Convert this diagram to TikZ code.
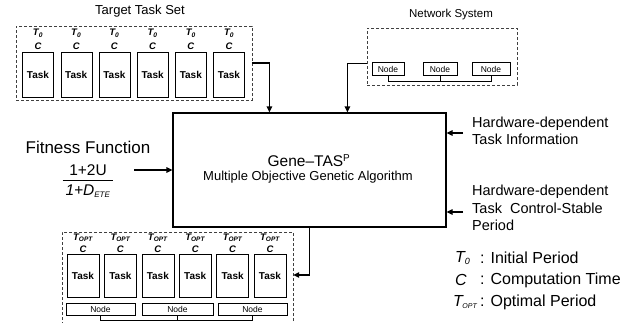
\documentclass[tikz,border=0pt]{standalone}
\usepackage{fontspec}
\setmainfont{Liberation Sans}
\usetikzlibrary{arrows.meta}

\begin{document}
\begin{tikzpicture}[x=1pt, y=-1pt,
  setbox/.style={draw=black!75, dash pattern=on 3pt off 2pt, inner sep=0pt},
  taskbox/.style={draw, thin, minimum width=31pt, minimum height=45pt, inner sep=0pt,
    font=\fontsize{10}{12}\selectfont\bfseries},
  tlabel/.style={font=\fontsize{9.5}{11}\selectfont\bfseries\itshape, inner sep=0pt},
  netnode/.style={draw, thin, minimum height=13pt, inner sep=0pt,
    font=\fontsize{8.5}{10}\selectfont},
  arr/.style={very thick, -{Triangle[length=6pt, width=5.5pt]}},
  sidetext/.style={font=\fontsize{14.5}{17.5}\selectfont, align=left, anchor=west, inner sep=0pt},
  legend/.style={font=\fontsize{16}{18}\selectfont, anchor=west, inner sep=0pt},
]

  \useasboundingbox (0,0) rectangle (627,322);

  % Central optimisation block
  \node[draw, very thick, minimum width=273pt, minimum height=114pt] (main) at (309.5,170) {};
  \node[font=\fontsize{15.5}{17}\selectfont] (gene) at (309,161) {Gene--TAS\textsuperscript{\fontsize{10}{10}\selectfont P}};
  \node[font=\fontsize{13}{14}\selectfont] (moga) at (308,177) {Multiple Objective Genetic Algorithm};

  % Target task set (top left)
  \node[font=\fontsize{13}{14}\selectfont] (ttitle) at (140,11) {Target Task Set};
  \node[setbox, minimum width=236pt, minimum height=74pt] (target) at (134,63) {};
  \foreach \i in {1,...,6} {
    \pgfmathsetmacro{\tx}{38+(\i-1)*38.2}
    \node[taskbox] (task\i) at (\tx,74.5) {Task};
    \node[tlabel] (tc\i) at (\tx,46) {C};
    \node[tlabel] (tp\i) at (\tx,33) {T\textsubscript{0}};
  }
  \draw[arr] (target.east) -| ([xshift=97pt]main.north west);

  % Network system (top right)
  \node[font=\fontsize{11.5}{13}\selectfont] (ntitle) at (451,15) {Network System};
  \node[setbox, minimum width=150pt, minimum height=57pt] (network) at (442,56.5) {};
  \node[netnode, minimum width=32pt] (n1) at (388,69) {Node};
  \node[netnode, minimum width=34pt] (n2) at (440,69) {Node};
  \node[netnode, minimum width=38pt] (n3) at (491,69) {Node};
  \draw (n1.south) -- ++(0,5) -| (n3.south);
  \draw (n2.south) -- ++(0,5);
  \draw[arr] ([yshift=-7pt]network.west) -| ([xshift=175pt]main.north west);

  % Fitness function (left)
  \node[font=\fontsize{17}{19}\selectfont] (fit) at (88,147) {Fitness Function};
  \node[font=\fontsize{15.5}{17}\selectfont, inner sep=0pt] (frac) at (88,182)
    {\begin{tabular}{@{\hspace{3pt}}c@{\hspace{3pt}}}1+2U\\[-1pt]\hline
     \rule{0pt}{15pt}\textit{1+D}\textsubscript{\textit{\fontsize{8}{9}\selectfont ETE}}\end{tabular}};
  \draw[arr] ([xshift=-38pt]main.west) -- (main.west);

  % Hardware-dependent inputs (right)
  \node[sidetext] (hw1) at (472,131) {Hardware-dependent\\Task Information};
  \node[sidetext] (hw2) at (472,208) {Hardware-dependent\\Task\ \ Control-Stable\\Period};
  \draw[arr] ([xshift=-9pt,yshift=-2pt]hw1.west) -- ([yshift=-2pt]hw1.west -| main.east);
  \draw[arr] ([xshift=-9pt,yshift=-4pt]hw2.west) -- ([yshift=-4pt]hw2.west -| main.east);

  % Optimised task set (bottom left)
  \node[setbox, minimum width=231pt, minimum height=98pt] (optset) at (177.5,281) {};
  \foreach \i in {1,...,6} {
    \pgfmathsetmacro{\tx}{83+(\i-1)*37.4}
    \node[taskbox, minimum width=32pt, minimum height=43pt] (otask\i) at (\tx,275.5) {Task};
    \node[tlabel] (oc\i) at (\tx,249) {C};
    \node[tlabel] (op\i) at (\tx,238) {T\textsubscript{\fontsize{6.5}{7}\selectfont OPT}};
  }
  \node[netnode, minimum width=69pt, minimum height=12pt] (m1) at (100.5,309) {Node};
  \node[netnode, minimum width=71pt, minimum height=12pt] (m2) at (177.5,309) {Node};
  \node[netnode, minimum width=69pt, minimum height=12pt] (m3) at (252.5,309) {Node};
  \draw (m1.south) -- ++(0,5) -| (m3.south);
  \draw (m2.south) -- ++(0,5);
  \draw[arr] (main.south) |- ([yshift=6pt]optset.east);

  % Legend
  \node[legend] (lt0) at (455,258) {\textit{T\textsubscript{\fontsize{9}{9}\selectfont 0}}};
  \node[legend] (lc)  at (455,280) {\textit{C}};
  \node[legend] (lto) at (453,302) {\textit{T\kern-0.5pt\textsubscript{\fontsize{7}{7}\selectfont OPT}}};
  \node[legend] (dt0) at (480,258) {: Initial Period};
  \node[legend] (dc)  at (480,280) {: Computation Time};
  \node[legend] (dto) at (480,302) {: Optimal Period};

\end{tikzpicture}
\end{document}
